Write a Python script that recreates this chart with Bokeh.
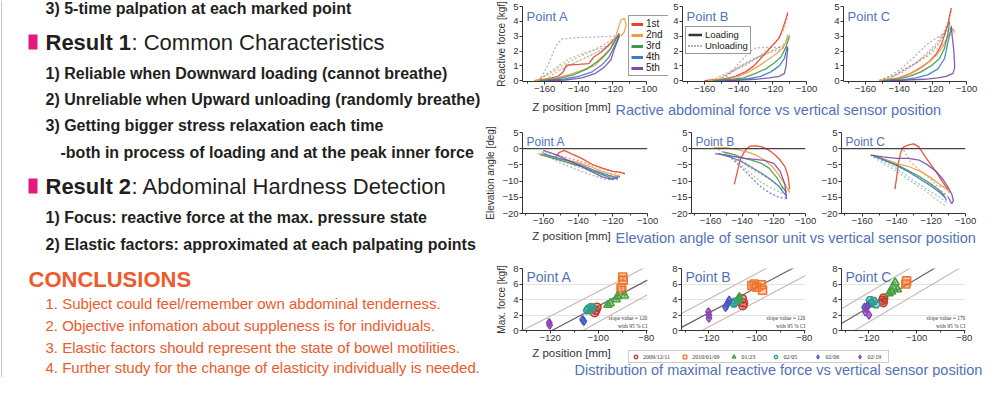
from bokeh.plotting import figure
from bokeh.layouts import row, column
from bokeh.models import Range1d, FixedTicker, Span, Legend, LegendItem, Label
from bokeh.core.properties import value
from bokeh.embed import file_html
from bokeh.resources import INLINE

NAN = float("nan")
FONT = "Liberation Sans"
SERIF = "Liberation Serif"
BLUE = "#5272b8"
DARK = "#231f20"
PINK = "#e5197c"
ORANGE_TXT = "#ee5a2c"

# ---------------- left panel text ----------------
INTRO_LINE = "3) 5-time palpation at each marked point"
RESULT1_HEAD = ["Result 1", ": Common Characteristics"]
RESULT1_LINES = ["1) Reliable when Downward loading (cannot breathe)",
                 "2) Unreliable when Upward unloading (randomly breathe)",
                 "3) Getting bigger stress relaxation each time"]
RESULT1_SUB = "-both in process of loading and at the peak inner force"
RESULT2_HEAD = ["Result 2", ": Abdominal Hardness Detection"]
RESULT2_LINES = ["1) Focus: reactive force at the max. pressure state",
                 "2) Elastic factors: approximated at each palpating points"]
CONCL_HEAD = "CONCLUSIONS"
CONCL_LINES = ["1. Subject could feel/remember own abdominal tenderness.",
               "2. Objective infomation about suppleness is for individuals.",
               "3. Elastic factors should represent the state of bowel motilities.",
               "4. Further study for the change of elasticity individually is needed."]

# ---------------- common ----------------
POINTS = ["Point A", "Point B", "Point C"]
TRIALS = ["1st", "2nd", "3rd", "4th", "5th"]
TRIAL_COLORS = ["#e8432c", "#f39c45", "#3f9a48", "#3a7cc4", "#7a4aa6"]

FORCE_XTICKS = [-160, -140, -120, -100]
FORCE_YTICKS = [0, 1, 2, 3, 4, 5]
ANGLE_XTICKS = [-160, -140, -120, -100]
ANGLE_YTICKS = [-20, -15, -10, -5, 0, 5]
MAXF_XTICKS = [-120, -100, -80]
MAXF_YTICKS = [0, 2, 4, 6, 8]

# ---------------- Row 1: reactive force vs Z position ----------------
FA_LOAD_X = [[-166, -158, -152, -149, -147, -140, -134, -131, -127, -123, -120, -118, -116],
             [-166, -155, -146, -138, -131, -126, -122, -119, -117, -115, -113, -112, -113, -115],
             [-163, -152, -143, -135, -129, -125, -121, -118, -116],
             [-160, -150, -140, -132, -126, -122, -119, -117, -116],
             [-158, -148, -138, -130, -125, -121, -119, -117, -116]]
FA_LOAD_Y = [[0.0, 0.15, 0.3, 0.6, 1.05, 1.1, 1.15, 1.6, 1.9, 2.3, 2.7, 2.9, 3.1],
             [0.0, 0.15, 0.4, 0.7, 1.0, 1.5, 2.0, 2.6, 3.4, 4.1, 4.2, 3.8, 3.3, 3.0],
             [0.0, 0.15, 0.4, 0.8, 1.3, 1.7, 2.2, 2.8, 3.2],
             [0.0, 0.1, 0.3, 0.6, 1.1, 1.6, 2.3, 2.8, 3.1],
             [0.0, 0.05, 0.2, 0.5, 0.9, 1.4, 2.1, 2.7, 3.0]]
FA_UNLD_X = [[-116, -119, -124, -132, -142, -150, -157, -163],
             [-115, -118, -125, -135, -145, -153, -160, -165],
             [-116, -120, -127, -136, -145, -152, -158, -163],
             [-116, -120, -128, -137, -146, -154, -161],
             [-116, -119, -130, -142, -150, -153, -156, -159, -163]]
FA_UNLD_Y = [[3.0, 2.9, 2.5, 2.0, 1.5, 1.0, 0.5, 0.1],
             [3.1, 2.7, 2.1, 1.6, 1.1, 0.7, 0.3, 0.0],
             [3.2, 2.5, 2.2, 1.9, 1.5, 1.0, 0.5, 0.1],
             [3.0, 2.6, 2.0, 1.5, 1.0, 0.5, 0.0],
             [3.0, 3.0, 2.95, 2.9, 2.8, 2.4, 1.6, 0.8, 0.1]]

FB_LOAD_X = [[-160, -150, -142, -136, -131, -127, -123, -119, -116, -114, -112, -111],
             [-158, -148, -140, -134, -128, -123, -118, -114, -112, -111],
             [-155, -145, -137, -130, -124, -119, -115, -112, -110],
             [-152, -142, -134, -127, -121, -116, -113, -112, -111],
             [-148, -138, -130, -122, -116, -113, -112, -111.5, -111]]
FB_LOAD_Y = [[0.0, 0.1, 0.3, 0.6, 1.0, 1.5, 2.0, 2.5, 2.9, 3.5, 4.2, 4.6],
             [0.0, 0.1, 0.3, 0.6, 1.0, 1.4, 1.8, 2.2, 2.6, 3.1],
             [0.0, 0.1, 0.2, 0.5, 0.8, 1.2, 1.6, 2.3, 3.0],
             [0.0, 0.05, 0.15, 0.3, 0.6, 1.0, 1.5, 2.0, 2.3],
             [0.0, 0.05, 0.1, 0.2, 0.3, 0.5, 1.0, 1.7, 2.2]]
FB_UNLD_X = [[-111, -113, -118, -126, -135, -144, -152, -158],
             [-111, -114, -120, -128, -137, -146, -153, -159],
             [-110, -113, -119, -127, -136, -145, -153],
             [-111, -114, -121, -130, -138, -146, -152],
             [-111, -115, -125, -130, -133, -138, -142, -146, -150]]
FB_UNLD_Y = [[4.5, 3.5, 2.6, 1.8, 1.1, 0.6, 0.2, 0.0],
             [3.0, 2.4, 2.0, 1.6, 1.1, 0.6, 0.2, 0.0],
             [3.1, 2.4, 2.1, 1.7, 1.2, 0.5, 0.0],
             [2.3, 2.2, 1.9, 1.5, 1.0, 0.5, 0.0],
             [2.2, 2.25, 2.25, 2.2, 2.0, 1.4, 0.9, 0.4, 0.0]]

FC_LOAD_X = [[-150, -140, -133, -127, -122, -118, -115, -113, -111, -110, -109],
             [-152, -142, -135, -128, -123, -118, -114, -111, -108, -107],
             [-150, -141, -134, -127, -121, -116, -113, -111, -110],
             [-148, -138, -130, -123, -117, -113, -111, -109],
             [-145, -135, -125, -117, -112, -108, -107, -107.5, -108.5, -109]]
FC_LOAD_Y = [[0.0, 0.2, 0.5, 0.9, 1.3, 1.8, 2.4, 3.1, 3.8, 4.4, 4.9],
             [0.0, 0.15, 0.4, 0.8, 1.2, 1.7, 2.3, 3.0, 3.5, 3.3],
             [0.0, 0.1, 0.3, 0.6, 1.0, 1.5, 2.2, 3.2, 4.0],
             [0.0, 0.05, 0.2, 0.4, 0.8, 1.5, 2.6, 3.6],
             [0.0, 0.05, 0.1, 0.2, 0.3, 0.5, 0.9, 2.0, 3.0, 3.7]]
FC_UNLD_X = [[-109, -111, -114, -118, -124, -131, -139, -147, -153],
             [-107, -110, -115, -121, -128, -136, -144, -151],
             [-110, -113, -117, -123, -130, -138, -146, -152],
             [-109, -112, -116, -122, -130, -139, -147],
             [-109, -112, -116, -119, -124, -131, -139, -146, -152]]
FC_UNLD_Y = [[4.7, 3.9, 3.2, 2.5, 1.8, 1.1, 0.5, 0.15, 0.0],
             [3.3, 3.0, 2.4, 1.8, 1.3, 0.8, 0.3, 0.0],
             [3.9, 3.3, 2.4, 1.7, 1.2, 0.7, 0.2, 0.0],
             [3.5, 3.4, 2.6, 1.9, 1.2, 0.6, 0.0],
             [3.6, 3.2, 3.0, 2.8, 2.4, 1.6, 0.8, 0.3, 0.0]]

# ---------------- Row 2: elevation angle vs Z position ----------------
EA_LOAD_X = [[-153, -151, -148, -144, -138, -132, -126, -120, -116, -113],
             [-163, -155, -147, -140, -133, -126, -120, -116],
             [-162, -154, -146, -138, -131, -125, -120, -117],
             [-160, -152, -144, -137, -130, -124, -119, -116],
             [-160, -152, -145, -138, -132, -126, -121, -117]]
EA_LOAD_Y = [[-2.5, -1.2, -0.5, -1.5, -3.0, -4.8, -6.0, -7.0, -7.2, -7.8],
             [-1.5, -2.5, -3.5, -4.2, -5.5, -7.0, -8.0, -8.5],
             [-1.8, -3.0, -4.2, -5.5, -7.0, -8.2, -9.3, -9.0],
             [-1.5, -2.8, -4.0, -5.3, -6.8, -8.0, -8.8, -8.6],
             [-0.5, -2.0, -3.8, -5.5, -7.2, -8.7, -9.4, -9.0]]
EA_UNLD_X = [[-113, -118, -125, -132, -140, -147, -152],
             [-116, -122, -129, -137, -145, -153, -160],
             [-117, -124, -131, -139, -147, -155, -161],
             [-116, -123, -131, -139, -147, -155, -161],
             [-117, -124, -133, -142, -150, -157, -161]]
EA_UNLD_Y = [[-7.5, -7.2, -6.3, -5.0, -3.6, -2.6, -2.0],
             [-8.2, -7.0, -5.8, -4.3, -3.2, -2.0, -1.0],
             [-9.2, -8.3, -7.2, -5.8, -4.3, -2.8, -1.5],
             [-8.8, -8.0, -6.8, -5.5, -4.0, -2.5, -1.2],
             [-9.6, -9.5, -8.0, -6.2, -4.4, -2.5, -0.5]]

EB_LOAD_X = [[-145, -143, -141, -138, -135, -131, -127, -123, -119, -116, -113, -111, -110],
             [-158, -150, -143, -137, -131, -126, -121, -117, -113, -110],
             [-152, -145, -140, -134, -128, -123, -118, -115, -112],
             [-155, -148, -141, -135, -128, -122, -117, -114, -112],
             [-157, -150, -144, -138, -132, -126, -120, -116, -113, -112]]
EB_LOAD_Y = [[-11.0, -7.0, -3.0, -0.5, 0.8, 0.9, 0.5, -0.5, -2.0, -3.5, -5.5, -8.5, -12.5],
             [0.3, 0.3, -0.3, -1.0, -2.0, -3.5, -5.5, -8.0, -11.0, -13.5],
             [-1.0, -1.8, -2.8, -3.5, -4.5, -6.0, -9.0, -11.5, -13.5],
             [-1.5, -2.5, -3.8, -5.5, -7.5, -9.5, -11.5, -13.5, -14.5],
             [-1.5, -2.0, -2.5, -3.0, -3.3, -3.6, -4.5, -7.0, -11.0, -15.5]]
EB_UNLD_X = [[-110, -113, -118, -124, -131, -138, -143, -145],
             [-110, -114, -120, -127, -134, -142, -150],
             [-112, -116, -122, -129, -136, -143, -150],
             [-112, -117, -123, -130, -137, -144, -150],
             [-112, -116, -121, -127, -133, -140, -148, -156]]
EB_UNLD_Y = [[-12.5, -13.0, -11.0, -9.0, -7.0, -5.0, -3.0, -1.5],
             [-13.5, -12.5, -10.5, -8.0, -5.5, -3.0, -1.0],
             [-14.0, -13.5, -12.0, -10.0, -7.0, -4.0, -1.5],
             [-15.0, -15.0, -13.5, -11.0, -7.5, -4.0, -1.0],
             [-15.5, -15.2, -14.0, -12.5, -9.5, -6.0, -2.5, 0.2]]

EC_LOAD_X = [[-141, -140, -139, -137.5, -136, -133, -130, -127, -124, -120, -116, -113, -111, -110],
             [-155, -147, -140, -133, -126, -120, -115, -111, -109],
             [-154, -147, -140, -133, -127, -121, -116, -113, -112],
             [-153, -146, -139, -132, -126, -120, -115, -112, -111],
             [-155, -148, -140, -133, -127, -122, -117, -113, -110, -108, -107, -108, -110]]
EC_LOAD_Y = [[-12.5, -9.0, -4.5, -1.0, 0.5, 1.2, 1.5, 0.5, -2.0, -5.0, -8.0, -10.5, -12.0, -12.5],
             [-2.0, -3.2, -4.5, -5.5, -7.0, -9.0, -11.0, -12.5, -13.5],
             [-2.0, -3.5, -5.0, -6.8, -8.5, -10.5, -12.5, -14.0, -15.0],
             [-2.2, -3.8, -5.5, -7.5, -9.5, -11.5, -13.5, -15.0, -16.0],
             [-2.0, -2.5, -3.0, -3.0, -3.5, -5.0, -7.0, -9.5, -12.0, -14.0, -16.0, -17.0, -15.0]]
EC_UNLD_X = [[-110, -112, -114, -116, -120, -126, -132, -137],
             [-109, -113, -119, -126, -133, -141, -148, -154],
             [-112, -116, -122, -129, -136, -143, -150, -155],
             [-111, -115, -121, -128, -135, -142, -149, -155],
             [-110, -114, -120, -127, -134, -141, -148, -155]]
EC_UNLD_Y = [[-12.5, -12.0, -11.5, -11.8, -9.5, -7.0, -4.0, 0.5],
             [-13.5, -14.0, -12.0, -9.5, -7.0, -5.0, -3.5, -2.0],
             [-17.5, -16.0, -13.5, -11.0, -8.5, -6.0, -3.8, -2.0],
             [-16.5, -15.0, -13.0, -10.5, -8.0, -5.5, -3.5, -2.0],
             [-15.0, -13.0, -11.0, -8.8, -6.5, -4.5, -3.0, -2.0]]

# ---------------- Row 3: max force vs Z position ----------------
DATES = ["2009/12/11", "2010/01/09", "01/23", "02/05", "02/06", "02/19"]
DATE_MARKERS = ["circle_dot", "square_dot", "triangle_dot", "hex_dot", "diamond_dot", "diamond_dot"]
DATE_COLORS = ["#c8372a", "#f0762e", "#48a03c", "#2f9e8c", "#4a57bf", "#8a44b4"]

MA_X = [[-101, -100.5, -101.5],
        [-89.8, -89.6, -90.5, -90.2],
        [-95, -92.5, -92, -89, -96],
        [-104, -103, -102.5, -104.5],
        [-106.5, -106],
        [-120.4, -120.2]]
MA_Y = [[2.6, 3.0, 2.3],
        [6.9, 6.5, 5.5, 5.2],
        [3.5, 4.0, 4.4, 4.5, 3.3],
        [2.8, 3.0, 2.9, 2.6],
        [1.4, 1.2],
        [1.0, 0.7]]
MB_X = [[-105.5, -105.8, -106],
        [-102, -100, -98, -97.5, -101],
        [-107.6, -108, -107.2],
        [-109, -109.5],
        [-112.5, -111.5, -112, -113],
        [-120, -120, -120.2]]
MB_Y = [[3.55, 3.2, 4.1],
        [5.8, 5.6, 5.9, 5.2, 6.0],
        [4.1, 3.8, 4.3],
        [3.7, 3.5],
        [3.3, 3.9, 3.6, 3.0],
        [2.0, 1.6, 2.4]]
MC_X = [[-114, -113.8, -114.2],
        [-104.2, -104.5],
        [-111.5, -110, -109, -108, -110.5],
        [-119, -118, -117, -119.5],
        [-120.5, -121.8],
        [-121.5, -121, -120]]
MC_Y = [[3.6, 4.2, 3.9],
        [6.4, 6.0],
        [4.8, 5.6, 6.2, 5.3, 5.0],
        [3.5, 3.8, 3.4, 3.9],
        [3.2, 3.0],
        [2.4, 2.9, 2.0]]

REG_X = [-131.5, -79.5]
REG_A = [[-2.0, 6.5], [0.0, 8.3], [-4.3, 4.6]]     # center, upper, lower
REG_B = [[0.4, 8.9], [2.2, 10.7], [-1.4, 7.1]]
REG_C = [[0.9, 10.4], [2.8, 12.3], [-1.0, 8.5]]
SLOPES = ["slope value = 120", "slope value = 120", "slope value = 170"]
CI_TEXT = "with 95 % CI"

TITLES = ["Ractive abdominal force vs vertical sensor position",
          "Elevation angle of sensor unit vs vertical sensor position",
          "Distribution of maximal reactive force vs vertical sensor position"]
XLABEL = "Z position [mm]"
YLABELS = ["Reactive force [kgf]", "Elevation angle [deg]", "Max. force [kgf]"]


def axes_fig(width, height, xr, yr, ml, mr, mt, mb, xticks, yticks, minor_step, ylabel=None,
             xbounds=None):
    p = figure(width=width, height=height, x_range=Range1d(*xr), y_range=Range1d(*yr),
               output_backend="svg", toolbar_location=None,
               min_border_left=ml, min_border_right=mr, min_border_top=mt, min_border_bottom=mb)
    p.outline_line_color = None
    p.xgrid.visible = False
    p.ygrid.visible = False
    p.background_fill_color = "white"
    p.border_fill_color = "white"
    lo, hi = xbounds if xbounds else xr
    minors = []
    t = xticks[0] - minor_step
    while t < hi:
        if t > lo and t not in xticks:
            minors.append(t)
        t += minor_step
    p.xaxis.ticker = FixedTicker(ticks=xticks, minor_ticks=minors)
    p.yaxis.ticker = FixedTicker(ticks=yticks)
    if xbounds:
        p.xaxis.bounds = xbounds
    for ax in (p.xaxis[0], p.yaxis[0]):
        ax.axis_line_color = "#333333"
        ax.axis_line_width = 1
        ax.major_tick_line_color = "#333333"
        ax.minor_tick_line_color = "#333333"
        ax.major_tick_in = 0
        ax.major_tick_out = 3
        ax.minor_tick_in = 0
        ax.minor_tick_out = 2
        ax.major_label_text_font = FONT
        ax.major_label_text_font_size = "9.5px"
        ax.major_label_text_color = "#333333"
        ax.major_label_standoff = 1
        ax.axis_label_text_font = FONT
        ax.axis_label_text_font_size = "10px"
        ax.axis_label_text_font_style = "normal"
        ax.axis_label_text_color = "#333333"
        ax.axis_label_standoff = 3
    if ylabel:
        p.yaxis.axis_label = ylabel
    return p


def point_label(p, text, xr, yr, yoff, size="13px"):
    p.add_layout(Label(x=xr[0], y=yr[1], x_offset=4, y_offset=-yoff, text=text,
                       text_baseline="top", text_font=FONT, text_font_size=size,
                       text_color=BLUE))


def draw_curves(p, lx, ly, ux, uy):
    for i in range(5):
        p.line(ux[i], uy[i], line_color=TRIAL_COLORS[i], line_width=1.2,
               line_dash="2 2", line_alpha=0.5)
    for i in range(5):
        p.line(lx[i], ly[i], line_color=TRIAL_COLORS[i], line_width=1.3, line_alpha=0.9)


def style_legend(lg, pad, lh, gw, fs):
    lg.border_line_color = "#333333"
    lg.border_line_width = 1.2
    lg.background_fill_color = "white"
    lg.background_fill_alpha = 1
    lg.padding = pad
    lg.spacing = 0
    lg.margin = 0
    lg.label_height = lh
    lg.glyph_height = lh
    lg.glyph_width = gw
    lg.label_standoff = 3
    lg.label_text_font = FONT
    lg.label_text_font_size = fs
    lg.label_text_color = "#222222"


# ---------------- build row 1 ----------------
W = [188, 150, 166]
F_XR = (-173, -100)
F_YR = (-0.05, 5)
PX_PER_MM = 124 / 73.0
F_XR_A = (-173, -173 + (188 - 42) / PX_PER_MM)   # frame widened so the legend fits inside
row1_specs = [(FA_LOAD_X, FA_LOAD_Y, FA_UNLD_X, FA_UNLD_Y, 42, 0, F_XR_A),
              (FB_LOAD_X, FB_LOAD_Y, FB_UNLD_X, FB_UNLD_Y, 14, 12, F_XR),
              (FC_LOAD_X, FC_LOAD_Y, FC_UNLD_X, FC_UNLD_Y, 25, 18, F_XR)]
row1 = []
for k, (lx, ly, ux, uy, ml, mr, xr) in enumerate(row1_specs):
    p = axes_fig(W[k], 98, xr, F_YR, ml, mr, 6, 17, FORCE_XTICKS, FORCE_YTICKS, 10,
                 YLABELS[0] if k == 0 else None, xbounds=F_XR if k == 0 else None)
    draw_curves(p, lx, ly, ux, uy)
    point_label(p, POINTS[k], xr, F_YR, 2)
    if k == 0:
        items = []
        for i in range(5):
            d = p.line(x=[NAN], y=[NAN], line_color=TRIAL_COLORS[i], line_width=3)
            items.append(LegendItem(label=TRIALS[i], renderers=[d]))
        lg = Legend(items=items, location=(106, 5))
        style_legend(lg, 2, 10, 12, "10px")
        p.add_layout(lg)
    if k == 1:
        d1 = p.line(x=[NAN], y=[NAN], line_color="#333333", line_width=2.5)
        d2 = p.line(x=[NAN], y=[NAN], line_color="#666666", line_width=2, line_dash="1 2")
        lg = Legend(items=[LegendItem(label="Loading", renderers=[d1]),
                           LegendItem(label="Unloading", renderers=[d2])], location=(3, 27))
        style_legend(lg, 2, 9, 14, "9.5px")
        p.add_layout(lg)
    row1.append(p)

# ---------------- build row 2 ----------------
E_XR = (-172, -100)
E_YR = (-20, 5)
row2_specs = [(EA_LOAD_X, EA_LOAD_Y, EA_UNLD_X, EA_UNLD_Y, 42, 21),
              (EB_LOAD_X, EB_LOAD_Y, EB_UNLD_X, EB_UNLD_Y, 17, 13),
              (EC_LOAD_X, EC_LOAD_Y, EC_UNLD_X, EC_UNLD_Y, 23, 19)]
row2 = []
for k, (lx, ly, ux, uy, ml, mr) in enumerate(row2_specs):
    p = axes_fig(W[k], 110, E_XR, E_YR, ml, mr, 14, 15, ANGLE_XTICKS, ANGLE_YTICKS, 10,
                 YLABELS[1] if k == 0 else None)
    p.add_layout(Span(location=0, dimension="width", line_color="#444444", line_width=1.3))
    draw_curves(p, lx, ly, ux, uy)
    point_label(p, POINTS[k], E_XR, E_YR, 2, "12px")
    row2.append(p)

# ---------------- build row 3 ----------------
M_XR = (-131.5, -79.5)
M_YR = (0, 8)
row3_specs = [(MA_X, MA_Y, REG_A, 42, 21), (MB_X, MB_Y, REG_B, 13, 13), (MC_X, MC_Y, REG_C, 23, 19)]
row3 = []
for k, (mx, my, reg, ml, mr) in enumerate(row3_specs):
    p = axes_fig(W[k], 100, M_XR, M_YR, ml, mr, 22, 16, MAXF_XTICKS, MAXF_YTICKS, 10,
                 YLABELS[2] if k == 0 else None)
    p.ygrid.visible = True
    p.ygrid.grid_line_color = "#e3e3e3"
    p.line(REG_X, reg[1], line_color="#c9b6b6", line_width=1.1)
    p.line(REG_X, reg[2], line_color="#c9b6b6", line_width=1.1)
    p.line(REG_X, reg[0], line_color="#6e6262", line_width=1.2)
    for g in range(6):
        p.scatter(mx[g], my[g], marker=DATE_MARKERS[g], size=8, line_color=DATE_COLORS[g],
                  fill_color=DATE_COLORS[g], fill_alpha=0.35, line_width=1.6)
    point_label(p, POINTS[k], M_XR, M_YR, 0, "14px")
    p.add_layout(Label(x=M_XR[1], y=1.6, x_offset=0, text=SLOPES[k], text_align="right",
                       text_baseline="middle", text_font=SERIF, text_font_size="5.5px",
                       text_color="#333333"))
    p.add_layout(Label(x=M_XR[1], y=0.6, x_offset=0, text=CI_TEXT, text_align="right",
                       text_baseline="middle", text_font=SERIF, text_font_size="5.5px",
                       text_color="#333333"))
    row3.append(p)


# ---------------- strips ----------------
def strip(h):
    s = figure(width=504, height=h, x_range=Range1d(0, 504), y_range=Range1d(h, 0),
               x_axis_type=None, y_axis_type=None, output_backend="svg",
               toolbar_location=None, min_border=0)
    s.outline_line_color = None
    s.grid.visible = False
    return s


def strip_texts(s, yz, yt, xt, title):
    s.text(x=[91], y=[yz], text=[XLABEL], text_font=value(FONT), text_font_size="11.5px",
           text_align="center", text_baseline="middle", text_color="#333333")
    s.text(x=[xt], y=[yt], text=[title], text_font=value(FONT), text_font_size="14.5px",
           text_align="left", text_baseline="middle", text_color=BLUE)


s1 = strip(20)
strip_texts(s1, 8, 11, 135, TITLES[0])
s2 = strip(18)
strip_texts(s2, 7, 9, 135, TITLES[1])
s3 = strip(31)
strip_texts(s3, 6, 23, 94, TITLES[2])
items = []
for g in range(6):
    d = s3.scatter(x=[NAN], y=[NAN], marker=DATE_MARKERS[g], size=8, line_color=DATE_COLORS[g],
                   fill_color="white", line_width=1.3)
    items.append(LegendItem(label=DATES[g], renderers=[d]))
lg3 = Legend(items=items, location=(148, 14), orientation="horizontal")
lg3.border_line_color = "#9a9a9a"
lg3.border_line_width = 1
lg3.padding = 1
lg3.spacing = 9
lg3.margin = 0
lg3.label_height = 9
lg3.glyph_height = 9
lg3.glyph_width = 11
lg3.label_standoff = 2
lg3.label_text_font = SERIF
lg3.label_text_font_size = "6px"
lg3.label_text_color = "#333333"
s3.add_layout(lg3)

# ---------------- left panel ----------------
left = figure(width=480, height=377, x_range=Range1d(0, 480), y_range=Range1d(377, 0),
              x_axis_type=None, y_axis_type=None, output_backend="svg",
              toolbar_location=None, min_border=0)
left.outline_line_color = None
left.grid.visible = False


def ltext(x, y, t, size, style="normal", color=DARK):
    left.text(x=[x], y=[y], text=[t], text_font=value(FONT), text_font_size=size,
              text_font_style=style, text_color=color, text_baseline="middle", text_align="left")


left.segment(x0=[1], y0=[0], x1=[1], y1=[377], line_color="#c8c8c8", line_width=1)
ltext(45, 8, INTRO_LINE, "16px", "bold")
left.quad(left=[28, 28], right=[37, 37], top=[34, 178], bottom=[49, 193], fill_color=PINK,
          line_color=None)
ltext(45, 42, RESULT1_HEAD[0], "22px", "bold")
ltext(131, 42, RESULT1_HEAD[1], "22px")
for t, y in zip(RESULT1_LINES, [72.7, 98.7, 125.3]):
    ltext(45, y, t, "16px", "bold")
ltext(60, 152, RESULT1_SUB, "16px", "bold")
ltext(45, 186, RESULT2_HEAD[0], "22px", "bold")
ltext(131, 186, RESULT2_HEAD[1], "22px")
for t, y in zip(RESULT2_LINES, [217, 243.7]):
    ltext(45, y, t, "16px", "bold")
ltext(28, 279, CONCL_HEAD, "22px", "bold", ORANGE_TXT)
for t, y in zip(CONCL_LINES, [303, 325, 347, 367]):
    ltext(45, y, t, "15px", "normal", ORANGE_TXT)

right = column(row(*row1), s1, row(*row2), s2, row(*row3), s3)
layout = row(left, right)

open("out.html", "w").write(file_html(layout, INLINE))
